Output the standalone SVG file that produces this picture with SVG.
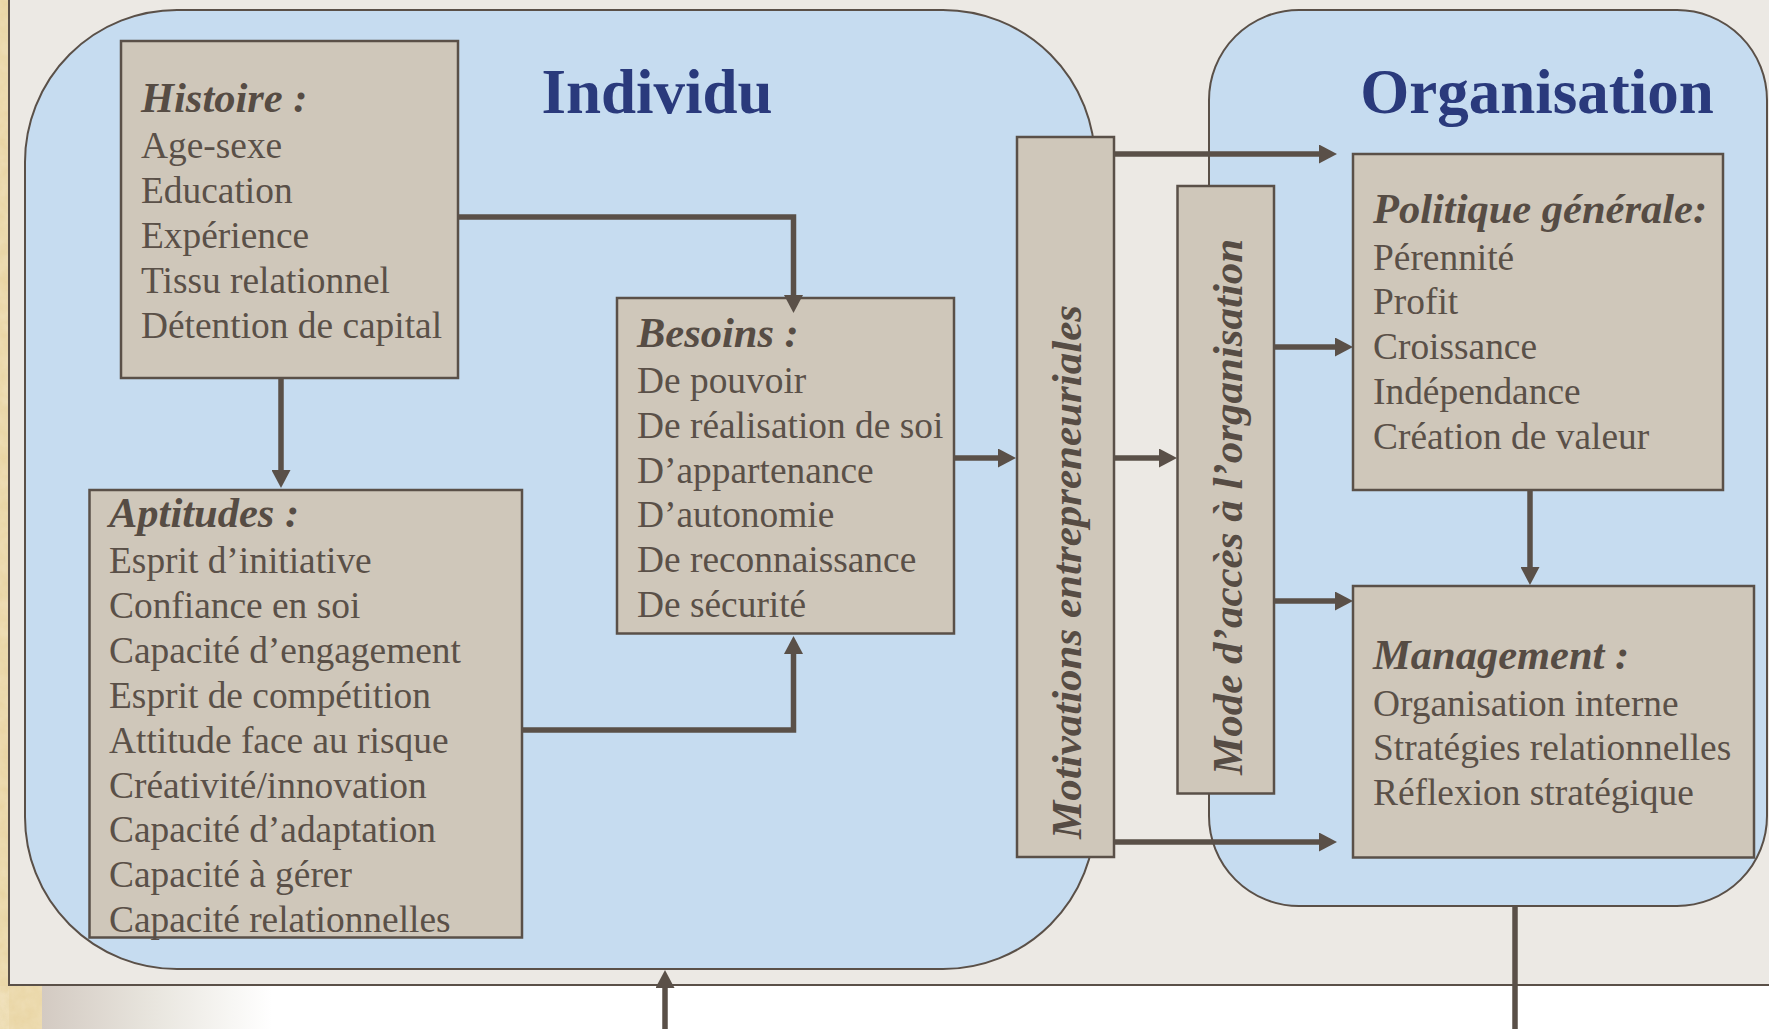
<svg xmlns="http://www.w3.org/2000/svg" width="1769" height="1029" viewBox="0 0 1769 1029">
  <defs>
    <style>
      .blob { fill: #C6DCF0; stroke: #5A5048; stroke-width: 2; }
      .box { fill: #CFC7BA; stroke: #5A5048; stroke-width: 2.5; }
      .zone { font-family: "Liberation Serif", "Times New Roman", serif; font-weight: bold; font-size: 63px; fill: #2A3A7C; text-anchor: middle; }
      .head { font-family: "Liberation Serif", "Times New Roman", serif; font-weight: bold; font-style: italic; font-size: 42.5px; fill: #564C44; }
      .item { font-family: "Liberation Serif", "Times New Roman", serif; font-size: 37.4px; fill: #5A5048; }
      .vert { font-family: "Liberation Serif", "Times New Roman", serif; font-weight: bold; font-style: italic; font-size: 43px; fill: #564C44; }
      .link { fill: none; stroke: #5A5048; stroke-width: 5.5; }
    </style>
    <marker id="arrow" markerUnits="userSpaceOnUse" markerWidth="19" markerHeight="19" refX="7" refY="9.5" orient="auto">
      <path d="M0,0 L18,9.5 L0,19 z" fill="#5A5048"/>
    </marker>
    <linearGradient id="fade" x1="0" y1="0" x2="1" y2="0">
      <stop offset="0" stop-color="#D3CAC2"/>
      <stop offset="0.5" stop-color="#E9E6DF"/>
      <stop offset="1" stop-color="#FFFFFF"/>
    </linearGradient>
    <filter id="grain" x="0" y="0" width="100%" height="100%">
      <feTurbulence type="fractalNoise" baseFrequency="0.08" numOctaves="3" seed="4" result="n"/>
      <feColorMatrix in="n" type="matrix" values="0 0 0 0 0.91  0 0 0 0 0.82  0 0 0 0 0.62  0 0 0 0.9 0" result="c"/>
      <feComposite in="c" in2="SourceGraphic" operator="in"/>
    </filter>
  </defs>

  <!-- backdrop: parchment edge, white band, fade strip -->
  <rect x="0" y="0" width="1769" height="1029" fill="#FFFFFF"/>
  <rect x="42" y="986" width="230" height="43" fill="url(#fade)"/>
  <rect x="0" y="0" width="9" height="1029" fill="#E8D3A0"/>
  <rect x="0" y="986" width="42" height="43" fill="#E8D3A0"/>
  <rect x="0" y="0" width="9" height="1029" fill="#E8D3A0" filter="url(#grain)" opacity="0.6"/>
  <rect x="0" y="986" width="42" height="43" fill="#E8D3A0" filter="url(#grain)" opacity="0.6"/>

  <!-- main panel -->
  <rect x="9" y="-10" width="1790" height="995" fill="#ECE9E4" stroke="#5A5048" stroke-width="2"/>

  <!-- zones -->
  <g id="zone-individu">
    <rect class="blob" x="25" y="10" width="1070" height="959" rx="152" ry="152"/>
    <text class="zone" x="657" y="113">Individu</text>
  </g>
  <g id="zone-organisation">
    <rect class="blob" x="1209" y="10" width="558" height="896" rx="90" ry="90"/>
    <text class="zone" x="1537" y="113">Organisation</text>
  </g>

  <!-- nodes -->
  <g id="histoire">
    <rect class="box" x="121" y="41" width="337" height="337"/>
    <text class="head" x="141" y="112">Histoire :</text>
    <text class="item" x="141" y="158">Age-sexe</text>
    <text class="item" x="141" y="203">Education</text>
    <text class="item" x="141" y="248">Expérience</text>
    <text class="item" x="141" y="293">Tissu relationnel</text>
    <text class="item" x="141" y="338">Détention de capital</text>
  </g>

  <g id="besoins">
    <rect class="box" x="617" y="298" width="337" height="335.5"/>
    <text class="head" x="637" y="347">Besoins :</text>
    <text class="item" x="637" y="393">De pouvoir</text>
    <text class="item" x="637" y="438">De réalisation de soi</text>
    <text class="item" x="637" y="483">D’appartenance</text>
    <text class="item" x="637" y="527">D’autonomie</text>
    <text class="item" x="637" y="572">De reconnaissance</text>
    <text class="item" x="637" y="617">De sécurité</text>
  </g>

  <g id="aptitudes">
    <rect class="box" x="89.5" y="490" width="432.5" height="447.5"/>
    <text class="head" x="109" y="527">Aptitudes :</text>
    <text class="item" x="109" y="573">Esprit d’initiative</text>
    <text class="item" x="109" y="618">Confiance en soi</text>
    <text class="item" x="109" y="663">Capacité d’engagement</text>
    <text class="item" x="109" y="708">Esprit de compétition</text>
    <text class="item" x="109" y="753">Attitude face au risque</text>
    <text class="item" x="109" y="798">Créativité/innovation</text>
    <text class="item" x="109" y="842">Capacité d’adaptation</text>
    <text class="item" x="109" y="887">Capacité à gérer</text>
    <text class="item" x="109" y="932">Capacité relationnelles</text>
  </g>

  <g id="motivations">
    <rect class="box" x="1017" y="137" width="97" height="720"/>
    <text class="vert" transform="translate(1081,839) rotate(-90)">Motivations entrepreneuriales</text>
  </g>

  <g id="mode-acces">
    <rect class="box" x="1177.5" y="186" width="96.5" height="607.5"/>
    <text class="vert" transform="translate(1242,775) rotate(-90)">Mode d’accès à l’organisation</text>
  </g>

  <g id="politique">
    <rect class="box" x="1353" y="154" width="370" height="336"/>
    <text class="head" x="1373" y="223">Politique générale:</text>
    <text class="item" x="1373" y="270">Pérennité</text>
    <text class="item" x="1373" y="314">Profit</text>
    <text class="item" x="1373" y="359">Croissance</text>
    <text class="item" x="1373" y="404">Indépendance</text>
    <text class="item" x="1373" y="449">Création de valeur</text>
  </g>

  <g id="management">
    <rect class="box" x="1353" y="586" width="401" height="271.5"/>
    <text class="head" x="1373" y="669">Management :</text>
    <text class="item" x="1373" y="716">Organisation interne</text>
    <text class="item" x="1373" y="760">Stratégies relationnelles</text>
    <text class="item" x="1373" y="805">Réflexion stratégique</text>
  </g>

  <!-- connectors -->
  <g id="connectors">
    <path class="link" d="M458,217 H793.5 V302" marker-end="url(#arrow)"/>
    <path class="link" d="M281,378 V477" marker-end="url(#arrow)"/>
    <path class="link" d="M522,730 H793.5 V647" marker-end="url(#arrow)"/>
    <path class="link" d="M954,458 H1005" marker-end="url(#arrow)"/>
    <path class="link" d="M1114,154 H1326" marker-end="url(#arrow)"/>
    <path class="link" d="M1114,458 H1166" marker-end="url(#arrow)"/>
    <path class="link" d="M1274,347 H1342" marker-end="url(#arrow)"/>
    <path class="link" d="M1274,601 H1342" marker-end="url(#arrow)"/>
    <path class="link" d="M1114,842 H1326" marker-end="url(#arrow)"/>
    <path class="link" d="M1530,490 V574" marker-end="url(#arrow)"/>
    <path class="link" d="M1515,906 V1029"/>
    <path class="link" d="M665,1029 V981" marker-end="url(#arrow)"/>
  </g>
</svg>
